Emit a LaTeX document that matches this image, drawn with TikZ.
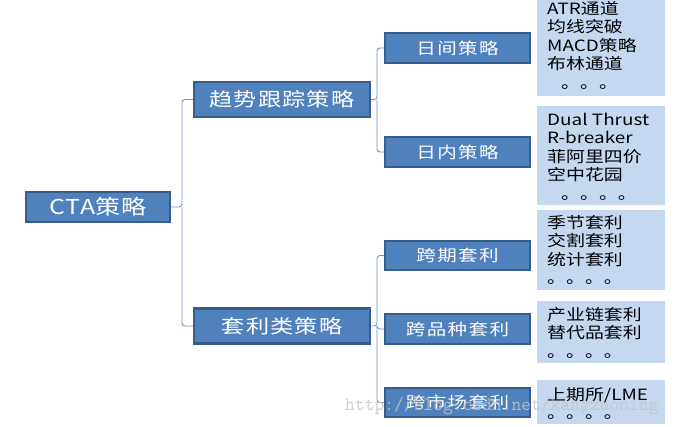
\documentclass[tikz,border=0pt]{standalone}
\usepackage{fontspec}
\setmainfont[FakeStretch=1.22]{Noto Sans CJK SC}
\newfontfamily\wmfont{Latin Modern Mono}
\definecolor{boxblue}{HTML}{4F81BD}
\definecolor{boxedge}{HTML}{385D8A}
\definecolor{lightbox}{HTML}{C6D8F0}
\definecolor{connc}{HTML}{6F92C8}
\definecolor{wmc}{HTML}{C4C4C4}
\begin{document}
\begin{tikzpicture}[x=1pt,y=-1pt,
  bluebase/.style={draw=boxedge, line width=2.4pt, fill=boxblue, text=white, inner sep=0pt},
  bigbox/.style={bluebase, minimum width=175.5pt, minimum height=35pt,
    font=\fontsize{19pt}{22pt}\selectfont\addfontfeature{LetterSpace=6}},
  ctabox/.style={bluebase, minimum width=143.5pt, minimum height=29.5pt,
    font=\fontsize{20.5pt}{23pt}\selectfont\addfontfeature{LetterSpace=3}},
  smallbox/.style={bluebase, minimum width=144.5pt, minimum height=29.5pt,
    font=\fontsize{16pt}{19pt}\selectfont\addfontfeature{LetterSpace=9}},
  listbox/.style={fill=lightbox, draw=none, minimum width=128pt, inner sep=0pt},
  listtext/.style={anchor=base west, inner sep=0pt, text=black,
    font=\fontsize{15.5pt}{18.5pt}\selectfont},
  conn/.style={draw=connc, line width=0.9pt, rounded corners=3pt}]
\useasboundingbox (0,0) rectangle (677,426);

% light list boxes
\node[listbox, minimum height=96pt]  (l1) at (601,48) {};
\node[listbox, minimum height=99pt]  (l2) at (601,155.5) {};
\node[listbox, minimum height=80pt]  (l3) at (601,250) {};
\node[listbox, minimum height=62pt]  (l4) at (601,332) {};
\node[listbox, minimum height=44pt]  (l5) at (601,402) {};

\node[listtext] (t1) at (547,14) {\parbox[t]{125pt}{\baselineskip=18.5pt
ATR通道\\均线突破\\MACD策略\\布林通道\\\hspace*{14pt}。。。}};
\node[listtext] (t2) at (547,125) {\parbox[t]{125pt}{\baselineskip=18.5pt
Dual Thrust\\R-breaker\\菲阿里四价\\空中花园\\\hspace*{14pt}。。。。}};
\node[listtext] (t3) at (547,228) {\parbox[t]{125pt}{\baselineskip=18.5pt
季节套利\\交割套利\\统计套利\\。。。。}};
\node[listtext] (t4) at (547,320) {\parbox[t]{125pt}{\baselineskip=18.5pt
产业链套利\\替代品套利\\。。。。}};
\node[listtext] (t5) at (547,400) {\parbox[t]{125pt}{\baselineskip=18.5pt
上期所/LME\\。。。。}};

% blue boxes
\node[ctabox] (cta) at (98,207) {CTA策略};
\node[bigbox] (trend) at (282,99.5) {趋势跟踪策略};
\node[bigbox] (arb) at (282,326) {套利类策略};
\node[smallbox] (day) at (457.5,48) {日间策略};
\node[smallbox] (intra) at (457.5,152) {日内策略};
\node[smallbox] (cal) at (457.5,255.5) {跨期套利};
\node[smallbox] (var) at (457.5,329) {跨品种套利};
\node[smallbox] (mkt) at (457.5,402.5) {跨市场套利};

% connectors
\coordinate (j1) at (182,207);
\coordinate (j2) at (377,99.5);
\coordinate (j3) at (377,326);
\draw[conn] (cta.east) -- (j1) |- (trend.west);
\draw[conn] (j1) |- (arb.west);
\draw[conn] (trend.east) -- (j2) |- (day.west);
\draw[conn] (j2) |- (intra.west);
\draw[conn] (arb.east) -- (j3) |- (cal.west);
\draw[conn] (j3) |- (var.west);
\draw[conn] (j3) |- (mkt.west);

% watermark
\node[anchor=base west, inner sep=0pt, text=wmc, opacity=0.85,
  font=\wmfont\fontsize{19pt}{21pt}\selectfont] (wm) at (345,410) {http://blog.csdn.net/kangzuoning};
\end{tikzpicture}
\end{document}
